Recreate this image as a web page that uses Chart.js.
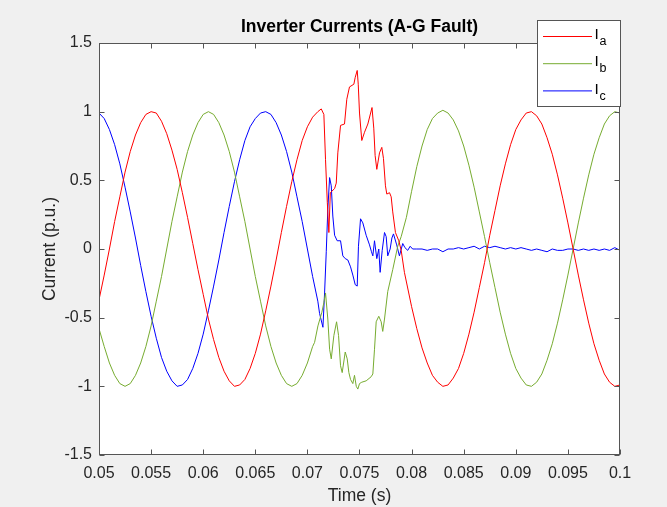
<!DOCTYPE html>
<html>
<head>
<meta charset="utf-8">
<title>Inverter Currents (A-G Fault)</title>
<script src="https://cdn.jsdelivr.net/npm/chart.js@4.4.1/dist/chart.umd.min.js"></script>
<style>
html, body { margin:0; padding:0; background:#f0f0f0; }
#grafico { display:block; }
</style>
</head>
<body>
<canvas id="grafico" width="667" height="507"></canvas>
<script>
"use strict";

/* =========================
   DADOS
========================= */

// fase a (vermelho)
const tempoA = [
    0.0500,0.0505,0.0510,0.0515,0.0520,0.0525,0.0530,0.0535,0.0540,0.0545,
    0.0550,0.0555,0.0560,0.0565,0.0570,0.0575,0.0580,0.0585,0.0590,0.0595,
    0.0600,0.0605,0.0610,0.0615,0.0620,0.0625,0.0630,0.0635,0.0640,0.0645,
    0.0650,0.0655,0.0660,0.0665,0.0670,0.0675,0.0680,0.0685,0.0690,0.0695,
    0.0700,0.0705,0.0710,
    0.07133,0.07158,0.07174,0.07191,0.07206,0.07220,0.07261,0.07277,0.07292,0.07318,
    0.07356,0.07378,0.07404,0.07446,0.07459,0.07478,0.07488,0.07500,0.07522,0.07548,
    0.07580,0.07620,0.07637,0.07650,0.07666,0.07692,0.07714,0.07730,0.07749,0.07762,
    0.07788,0.07804,0.07819,0.07845,0.07877,0.07900,0.07931,
    0.0800,0.0805,0.0810,0.0815,0.0820,0.0825,0.0830,0.0835,0.0840,0.0845,
    0.0850,0.0855,0.0860,0.0865,0.0870,0.0875,0.0880,0.0885,0.0890,0.0895,
    0.0900,0.0905,0.0910,0.0915,0.0920,0.0925,0.0930,0.0935,0.0940,0.0945,
    0.0950,0.0955,0.0960,0.0965,0.0970,0.0975,0.0980,0.0985,0.0990,0.0995,0.1000
];

const correnteA = [
    -0.37,-0.19,0.00,0.20,0.38,0.56,0.71,0.83,0.92,0.98,
    1.00,0.99,0.93,0.84,0.72,0.58,0.41,0.23,0.04,-0.15,
    -0.33,-0.51,-0.66,-0.79,-0.89,-0.96,-1.00,-0.99,-0.95,-0.87,
    -0.76,-0.62,-0.45,-0.27,-0.08,0.12,0.31,0.49,0.65,0.79,
    0.89,0.96,1.00,
    1.02,0.98,0.65,0.34,0.12,0.41,0.44,0.48,0.70,0.90,
    0.91,1.09,1.18,1.20,1.25,1.30,1.20,0.99,0.79,0.85,
    0.91,1.03,0.88,0.68,0.58,0.70,0.74,0.66,0.46,0.40,
    0.41,0.38,0.27,0.12,0.06,-0.01,-0.17,
    -0.42,-0.58,-0.72,-0.83,-0.92,-0.97,-1.00,-0.99,-0.94,-0.87,
    -0.76,-0.62,-0.46,-0.28,-0.10,0.10,0.28,0.46,0.62,0.76,
    0.87,0.94,0.99,1.00,0.97,0.91,0.81,0.69,0.54,0.37,
    0.19,0.00,-0.19,-0.37,-0.54,-0.69,-0.81,-0.91,-0.97,-1.00,-0.99
];

// fase b (verde)
const tempoB = [
    0.0500,0.0505,0.0510,0.0515,0.0520,0.0525,0.0530,0.0535,0.0540,0.0545,
    0.0550,0.0555,0.0560,0.0565,0.0570,0.0575,0.0580,0.0585,0.0590,0.0595,
    0.0600,0.0605,0.0610,0.0615,0.0620,0.0625,0.0630,0.0635,0.0640,0.0645,
    0.0650,0.0655,0.0660,0.0665,0.0670,0.0675,0.0680,0.0685,0.0690,0.0695,
    0.0700,0.0705,
    0.07069,0.07101,0.07139,0.07158,0.07174,0.07196,0.07213,0.07229,0.07254,0.07280,
    0.07299,0.07318,0.07334,0.07363,0.07382,0.07398,0.07414,0.07436,0.07452,0.07469,
    0.07484,0.07500,0.07522,0.07564,0.07612,0.07628,0.07644,0.07660,0.07685,0.07708,
    0.07723,0.07740,0.07771,0.07819,0.07867,
    0.0790,0.0795,0.0800,0.0805,0.0810,0.0815,0.0820,0.0825,0.0830,0.0835,
    0.0840,0.0845,0.0850,0.0855,0.0860,0.0865,0.0870,0.0875,0.0880,0.0885,
    0.0890,0.0895,0.0900,0.0905,0.0910,0.0915,0.0920,0.0925,0.0930,0.0935,
    0.0940,0.0945,0.0950,0.0955,0.0960,0.0965,0.0970,0.0975,0.0980,0.0985,
    0.0990,0.0995,0.1000
];

const correnteB = [
    -0.58,-0.71,-0.83,-0.92,-0.98,-1.00,-0.98,-0.92,-0.83,-0.71,
    -0.56,-0.38,-0.20,0.00,0.20,0.38,0.56,0.71,0.83,0.92,
    0.98,1.00,0.98,0.92,0.83,0.71,0.56,0.38,0.20,0.00,
    -0.20,-0.38,-0.56,-0.71,-0.83,-0.92,-0.98,-1.00,-0.98,-0.92,
    -0.83,-0.71,
    -0.68,-0.56,-0.46,-0.39,-0.32,-0.51,-0.73,-0.80,-0.63,-0.53,
    -0.63,-0.85,-0.90,-0.75,-0.80,-0.90,-0.95,-0.98,-0.92,-1.00,
    -1.02,-0.98,-0.97,-0.96,-0.93,-0.91,-0.73,-0.53,-0.49,-0.53,
    -0.60,-0.51,-0.31,-0.15,0.02,
    0.09,0.23,0.42,0.60,0.75,0.87,0.95,0.99,1.01,0.99,
    0.94,0.86,0.75,0.61,0.45,0.27,0.09,-0.10,-0.28,-0.46,
    -0.62,-0.76,-0.87,-0.94,-0.99,-1.00,-0.97,-0.91,-0.81,-0.69,
    -0.54,-0.37,-0.19,0.00,0.19,0.37,0.54,0.69,0.81,0.91,
    0.97,1.00,0.99
];

// fase c (azul)
const tempoC = [
    0.0500,0.0505,0.0510,0.0515,0.0520,0.0525,0.0530,0.0535,0.0540,0.0545,
    0.0550,0.0555,0.0560,0.0565,0.0570,0.0575,0.0580,0.0585,0.0590,0.0595,
    0.0600,0.0605,0.0610,0.0615,0.0620,0.0625,0.0630,0.0635,0.0640,0.0645,
    0.0650,0.0655,0.0660,0.0665,0.0670,0.0675,0.0680,0.0685,0.0690,0.0695,
    0.0700,0.0705,0.0710,
    0.07117,0.07149,0.07165,0.07181,0.07196,0.07213,0.07229,0.07244,0.07261,0.07286,
    0.07318,0.07340,0.07363,0.07388,0.07414,0.07436,0.07459,0.07478,0.07490,0.07510,
    0.07532,0.07564,0.07596,0.07615,0.07628,0.07644,0.07666,0.07685,0.07698,0.07718,
    0.07740,0.07756,0.07771,0.07794,0.07811,0.07826,0.07857,0.07883,0.07915,0.07936,
    0.07963,0.07986,0.08010,
    0.0805,0.0810,0.0815,0.0820,0.0825,0.0830,0.0835,0.0840,0.0845,0.0850,
    0.0855,0.0860,0.0865,0.0870,0.0875,0.0880,0.0885,0.0890,0.0895,0.0900,
    0.0905,0.0910,0.0915,0.0920,0.0925,0.0930,0.0935,0.0940,0.0945,0.0950,
    0.0955,0.0960,0.0965,0.0970,0.0975,0.0980,0.0985,0.0990,0.0995,0.1000
];

const correnteC = [
    0.99,0.95,0.87,0.76,0.62,0.45,0.27,0.08,-0.12,-0.31,
    -0.49,-0.65,-0.79,-0.89,-0.96,-1.00,-0.99,-0.95,-0.87,-0.76,
    -0.62,-0.45,-0.27,-0.08,0.12,0.31,0.49,0.65,0.79,0.89,
    0.95,0.99,1.00,0.98,0.92,0.83,0.71,0.56,0.38,0.20,
    0.00,-0.20,-0.38,
    -0.47,-0.57,-0.32,-0.02,0.29,0.52,0.46,0.24,0.10,0.06,
    0.06,-0.05,-0.07,-0.08,-0.13,-0.19,-0.26,-0.27,0.02,0.22,
    0.19,0.10,0.03,-0.02,-0.05,0.06,-0.07,0.00,-0.17,-0.01,
    0.12,0.09,-0.05,0.00,0.08,0.11,0.03,-0.05,0.04,0.01,
    -0.01,0.02,0.00,
    0.00,0.00,-0.01,0.00,0.00,-0.02,0.00,0.00,0.01,0.00,
    0.01,0.02,0.00,0.02,0.01,0.02,0.01,0.00,0.01,0.00,
    0.01,0.00,-0.01,0.00,-0.01,-0.02,0.00,-0.01,-0.01,0.00,
    0.00,-0.01,0.00,-0.01,0.00,-0.01,0.00,-0.01,0.01,-0.01
];

const nomesSeries = ["a", "b", "c"];

const ticksX = [0.05,0.055,0.06,0.065,0.07,0.075,0.08,0.085,0.09,0.095,0.1];
const rotulosX = ["0.05","0.055","0.06","0.065","0.07","0.075","0.08","0.085","0.09","0.095","0.1"];

const ticksY = [-1.5,-1,-0.5,0,0.5,1,1.5];
const rotulosY = ["-1.5","-1","-0.5","0","0.5","1","1.5"];

/* =========================
   ESTILO
========================= */

const FONTE = "'Liberation Sans', Arial, Helvetica, sans-serif";
const cores = ["#ff0000", "#77ac30", "#0000ff"];
const corEixo = "#262626";
const corCaixa = "#555555";

/* =========================
   HELPERS
========================= */

function pontos(tempos, valores){

    return tempos.map(function(t, i){

        return { x: t, y: valores[i] };

    });

}

function serie(i, tempos, valores){

    return {
        label: "I" + nomesSeries[i],
        data: pontos(tempos, valores),
        borderColor: cores[i],
        backgroundColor: cores[i],
        borderWidth: 1,
        pointRadius: 0,
        tension: 0,
        fill: false
    };

}

/* =========================
   PLUGINS (fundo, caixa, legenda)
========================= */

const fundoMatlab = {

    id: "fundoMatlab",

    beforeDraw: function(chart){

        const ctx = chart.ctx;
        const a = chart.chartArea;

        ctx.save();
        ctx.fillStyle = "#f0f0f0";
        ctx.fillRect(0, 0, chart.width, chart.height);
        ctx.fillStyle = "#ffffff";
        ctx.fillRect(a.left, a.top, a.right - a.left, a.bottom - a.top);
        ctx.restore();

    }

};

const caixaMatlab = {

    id: "caixaMatlab",

    afterDatasetsDraw: function(chart){

        const ctx = chart.ctx;
        const a = chart.chartArea;
        const x = chart.scales.x;
        const y = chart.scales.y;
        const L = 5;

        const esq = Math.round(a.left) + 0.5;
        const dir = Math.round(a.right) - 0.5;
        const topo = Math.round(a.top) + 0.5;
        const base = Math.round(a.bottom) - 0.5;

        ctx.save();
        ctx.strokeStyle = corCaixa;
        ctx.lineWidth = 1;
        ctx.beginPath();

        x.ticks.forEach(function(t){

            const px = Math.round(x.getPixelForValue(t.value)) + 0.5;
            ctx.moveTo(px, base);
            ctx.lineTo(px, base - L);
            ctx.moveTo(px, topo);
            ctx.lineTo(px, topo + L);

        });

        y.ticks.forEach(function(t){

            const py = Math.round(y.getPixelForValue(t.value)) + 0.5;
            ctx.moveTo(esq, py);
            ctx.lineTo(esq + L, py);
            ctx.moveTo(dir, py);
            ctx.lineTo(dir - L, py);

        });

        ctx.stroke();
        ctx.strokeRect(esq, topo, dir - esq, base - topo);
        ctx.restore();

    }

};

const legendaMatlab = {

    id: "legendaMatlab",

    afterDraw: function(chart){

        const ctx = chart.ctx;
        const bx = 537.5, by = 20.5, bw = 83, bh = 86;

        ctx.save();
        ctx.fillStyle = "#ffffff";
        ctx.fillRect(bx, by, bw, bh);
        ctx.strokeStyle = corCaixa;
        ctx.lineWidth = 1;
        ctx.strokeRect(bx, by, bw, bh);

        chart.data.datasets.forEach(function(ds, i){

            const ly = 36.5 + i * 27.2;

            ctx.strokeStyle = ds.borderColor;
            ctx.beginPath();
            ctx.moveTo(543, ly);
            ctx.lineTo(592, ly);
            ctx.stroke();

            ctx.fillStyle = "#000000";
            ctx.textAlign = "left";
            ctx.textBaseline = "alphabetic";
            ctx.font = "15.5px " + FONTE;
            ctx.fillText("I", 594.5, ly + 2.7);
            ctx.font = "12.5px " + FONTE;
            ctx.fillText(nomesSeries[i], 599.5, ly + 8.7);

        });

        ctx.restore();

    }

};

/* =========================
   GRAFICO
========================= */

new Chart(document.getElementById("grafico"), {

    type: "line",

    data: {
        datasets: [
            serie(0, tempoA, correnteA),
            serie(1, tempoB, correnteB),
            serie(2, tempoC, correnteC)
        ]
    },

    options: {

        responsive: false,
        animation: false,
        devicePixelRatio: 1,

        layout: { padding: { left: 0, right: 47, top: 0, bottom: 0 } },

        plugins: {

            legend: { display: false },
            tooltip: { enabled: false },

            title: {
                display: true,
                text: "Inverter Currents (A-G Fault)",
                fullSize: false,
                color: "#000000",
                font: { family: FONTE, size: 17.5, weight: "bold", lineHeight: 1.2 },
                padding: { top: 17, bottom: 5 }
            }

        },

        scales: {

            x: {
                type: "linear",
                position: "bottom",
                min: 0.05,
                max: 0.1,
                afterFit: function(s){ s.height = 507 - 455; },
                afterBuildTicks: function(s){
                    s.ticks = ticksX.map(function(v){ return { value: v }; });
                },
                grid: { display: false, drawTicks: false },
                border: { display: false },
                ticks: {
                    autoSkip: false,
                    maxRotation: 0,
                    padding: 8.5,
                    color: corEixo,
                    font: { family: FONTE, size: 16 },
                    callback: function(v, i){ return rotulosX[i]; }
                },
                title: {
                    display: true,
                    text: "Time (s)",
                    color: corEixo,
                    font: { family: FONTE, size: 17.5, lineHeight: 1.2 },
                    padding: { top: 0, bottom: 0 }
                }
            },

            y: {
                type: "linear",
                min: -1.5,
                max: 1.5,
                afterFit: function(s){ s.width = 99; },
                afterBuildTicks: function(s){
                    s.ticks = ticksY.map(function(v){ return { value: v }; });
                },
                grid: { display: false, drawTicks: false },
                border: { display: false },
                ticks: {
                    padding: 7,
                    color: corEixo,
                    font: { family: FONTE, size: 16 },
                    callback: function(v, i){ return rotulosY[i]; }
                },
                title: {
                    display: true,
                    text: "Current (p.u.)",
                    color: corEixo,
                    font: { family: FONTE, size: 17.5, lineHeight: 1.2 },
                    padding: { top: 39.5, bottom: 0 }
                }
            }

        }

    },

    plugins: [fundoMatlab, caixaMatlab, legendaMatlab]

});
</script>
</body>
</html>
